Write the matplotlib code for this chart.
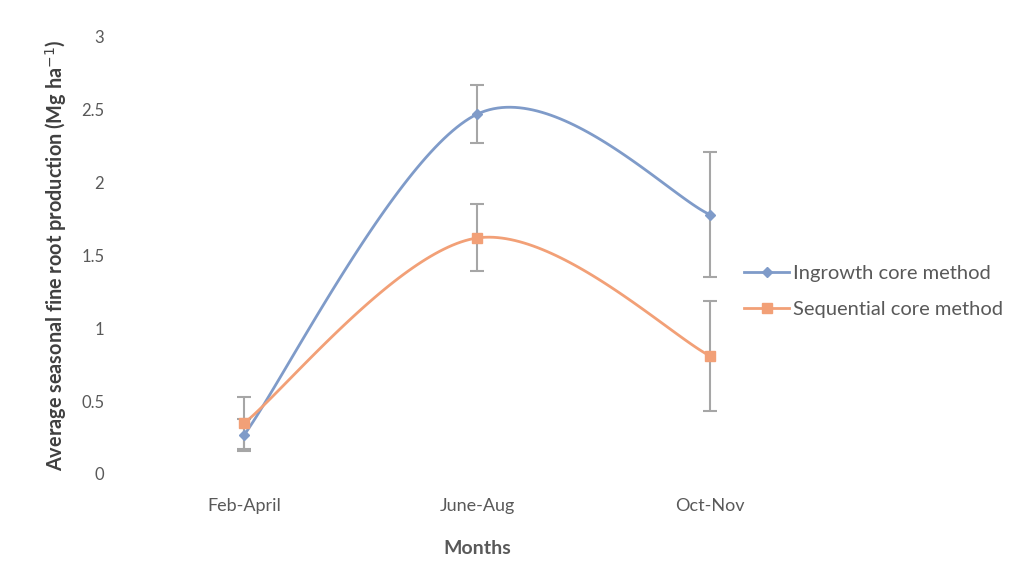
import numpy as np
import matplotlib
matplotlib.use("Agg")
import matplotlib.pyplot as plt
from matplotlib.lines import Line2D

plt.rcParams['font.family'] = ['Lato', 'DejaVu Sans']

months = ["Feb-April", "June-Aug", "Oct-Nov"]
ingrowth = [0.27, 2.47, 1.78]
ingrowth_err = [0.11, 0.20, 0.43]
sequential = [0.35, 1.62, 0.81]
sequential_err = [0.18, 0.23, 0.38]

blue = "#7f9bc9"
orange = "#f2a077"
err_grey = "#a6a6a6"
text_grey = "#595959"


def smooth_curve(xs, ys, n=60):
    """Bezier-smoothed path through the given points (ends clamped)."""
    xs = np.asarray(xs, float)
    ys = np.asarray(ys, float)
    px = np.concatenate([[xs[0]], xs, [xs[-1]]])
    py = np.concatenate([[ys[0]], ys, [ys[-1]]])
    out_x, out_y = [], []
    for i in range(1, len(px) - 2):
        p0, p1, p2, p3 = (np.array([px[j], py[j]]) for j in range(i - 1, i + 3))
        c1 = p1 + (p2 - p0) / 6.0
        c2 = p2 - (p3 - p1) / 6.0
        t = np.linspace(0, 1, n)[:, None]
        b = ((1 - t) ** 3) * p1 + 3 * ((1 - t) ** 2) * t * c1 + 3 * (1 - t) * t ** 2 * c2 + t ** 3 * p2
        out_x.extend(b[:, 0])
        out_y.extend(b[:, 1])
    return np.array(out_x), np.array(out_y)


fig = plt.figure(figsize=(10.23, 5.68), dpi=100)
ax = fig.add_axes([0.125, 0.1655, 0.683, 0.7695])

x = np.arange(len(months)) + 0.5

for vals, errs, color, marker, ms in [
    (ingrowth, ingrowth_err, blue, "D", 5),
    (sequential, sequential_err, orange, "s", 7),
]:
    sx, sy = smooth_curve(x, vals)
    ax.plot(sx, sy, color=color, lw=2.0, zorder=2)
    ax.errorbar(x, vals, yerr=errs, fmt="none", ecolor=err_grey, elinewidth=1.5,
                capsize=5, capthick=1.5, zorder=3)
    ax.plot(x, vals, linestyle="none", marker=marker, ms=ms, color=color, zorder=4)

ax.set_xlim(0, 3)
ax.set_ylim(0, 3)
ax.set_xticks(x)
ax.set_xticklabels(months, fontsize=13, color=text_grey)
ax.set_yticks([0, 0.5, 1, 1.5, 2, 2.5, 3])
ax.set_yticklabels(["0", "0.5", "1", "1.5", "2", "2.5", "3"], fontsize=12, color=text_grey)
ax.tick_params(axis="x", length=0, pad=17)
ax.tick_params(axis="y", length=0, pad=17)
for s in ax.spines.values():
    s.set_visible(False)

ax.set_xlabel("Months", fontsize=14, fontweight="bold", color=text_grey, labelpad=19)
ax.set_ylabel("Average seasonal fine root production (Mg ha$^{-1}$)", fontsize=14.3,
              fontweight="bold", color="#404040", labelpad=9)

handles = [
    Line2D([], [], color=blue, lw=2, marker="D", ms=5),
    Line2D([], [], color=orange, lw=2, marker="s", ms=7),
]
fig.legend(handles, ["Ingrowth core method", "Sequential core method"],
           loc="center left", bbox_to_anchor=(0.71, 0.487), frameon=False,
           fontsize=14.5, labelcolor=text_grey, handlelength=2.2, handletextpad=0.2,
           labelspacing=0.95)

fig.savefig("out.png", dpi=100, facecolor="white")
